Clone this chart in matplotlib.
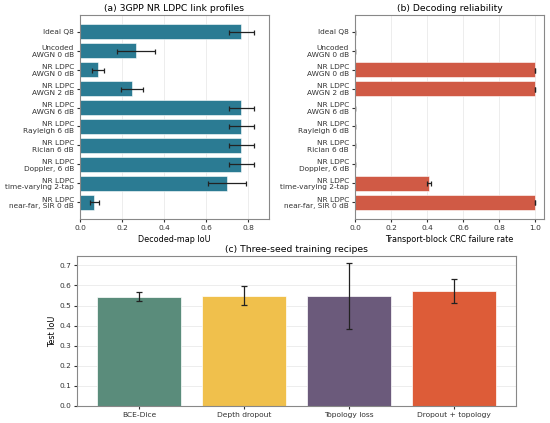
import numpy as np
import matplotlib.pyplot as plt

# профили канала
profiles = ["Ideal Q8", "Uncoded\nAWGN 0 dB", "NR LDPC\nAWGN 0 dB", "NR LDPC\nAWGN 2 dB",
            "NR LDPC\nAWGN 6 dB", "NR LDPC\nRayleigh 6 dB", "NR LDPC\nRician 6 dB",
            "NR LDPC\nDoppler, 6 dB", "NR LDPC\ntime-varying 2-tap", "NR LDPC\nnear-far, SIR 0 dB"]
iou_mean = [0.768, 0.265, 0.087, 0.248, 0.768, 0.768, 0.768, 0.768, 0.700, 0.068]
iou_err = [0.060, 0.090, 0.028, 0.052, 0.060, 0.060, 0.060, 0.060, 0.090, 0.022]
crc_fail = [0.0, 0.0, 1.0, 1.0, 0.0, 0.0, 0.0, 0.0, 0.41, 1.0]
crc_err = [0.0, 0.0, 0.0, 0.0, 0.0, 0.0, 0.0, 0.0, 0.01, 0.0]

recipes = ["BCE-Dice", "Depth dropout", "Topology loss", "Dropout + topology"]
recipe_mean = [0.543, 0.549, 0.548, 0.571]
recipe_err = [0.022, 0.046, 0.163, 0.060]
recipe_colors = ["#5a8c7b", "#f0c04c", "#6b5a7b", "#dd5c38"]

plt.rcParams['font.size'] = 5.5
plt.rcParams['axes.edgecolor'] = '#888888'
plt.rcParams['axes.linewidth'] = 0.8
plt.rcParams['xtick.color'] = '#333333'
plt.rcParams['ytick.color'] = '#333333'
plt.rcParams['xtick.labelsize'] = 5.4
plt.rcParams['ytick.labelsize'] = 5.3
plt.rcParams['xtick.major.size'] = 2.5
plt.rcParams['ytick.major.size'] = 2.5
plt.rcParams['xtick.major.pad'] = 2
plt.rcParams['ytick.major.pad'] = 1.8
plt.rcParams['axes.labelsize'] = 5.8
plt.rcParams['axes.labelpad'] = 2.5

fig = plt.figure(figsize=(5.5, 4.23), dpi=100)
ax_a = fig.add_axes([0.1455, 0.4823, 0.3436, 0.4823])
ax_b = fig.add_axes([0.6455, 0.4823, 0.3436, 0.4823])
ax_c = fig.add_axes([0.14, 0.0402, 0.798, 0.3546])

y = np.arange(len(profiles))
ekw = dict(ecolor="#222222", elinewidth=0.9, capsize=1.8, capthick=0.9)

ax_a.barh(y, iou_mean, height=0.8, color="#2b7b93", edgecolor="white", linewidth=0.4,
          xerr=iou_err, error_kw=ekw)
ax_a.set_yticks(y)
ax_a.set_yticklabels(profiles, linespacing=1.15)
ax_a.invert_yaxis()
ax_a.set_xlim(0, 0.9)
ax_a.set_xlabel("Decoded-map IoU")
ax_a.set_title("(a) 3GPP NR LDPC link profiles", fontsize=6.7, pad=3)
ax_a.grid(axis="x", color="#e6e6e6", linewidth=0.5)
ax_a.set_axisbelow(True)

ax_b.barh(y, crc_fail, height=0.8, color="#d05a45", edgecolor="white", linewidth=0.4,
          xerr=crc_err, error_kw=ekw)
ax_b.set_yticks(y)
ax_b.set_yticklabels(profiles, linespacing=1.15)
ax_b.invert_yaxis()
ax_b.set_xlabel("Transport-block CRC failure rate")
ax_b.set_title("(b) Decoding reliability", fontsize=6.7, pad=3)
ax_b.grid(axis="x", color="#e6e6e6", linewidth=0.5)
ax_b.set_axisbelow(True)

x = np.arange(len(recipes))
ax_c.bar(x, recipe_mean, width=0.8, color=recipe_colors, edgecolor="white", linewidth=0.5,
         yerr=recipe_err, error_kw=dict(ecolor="#222222", elinewidth=0.9, capsize=2.5, capthick=0.9))
ax_c.set_xticks(x)
ax_c.set_xticklabels(recipes)
ax_c.set_ylabel("Test IoU", labelpad=1.5)
ax_c.set_title("(c) Three-seed training recipes", fontsize=6.7, pad=3)
ax_c.grid(axis="y", color="#e6e6e6", linewidth=0.5)
ax_c.set_axisbelow(True)

fig.savefig("out.png", dpi=100)
